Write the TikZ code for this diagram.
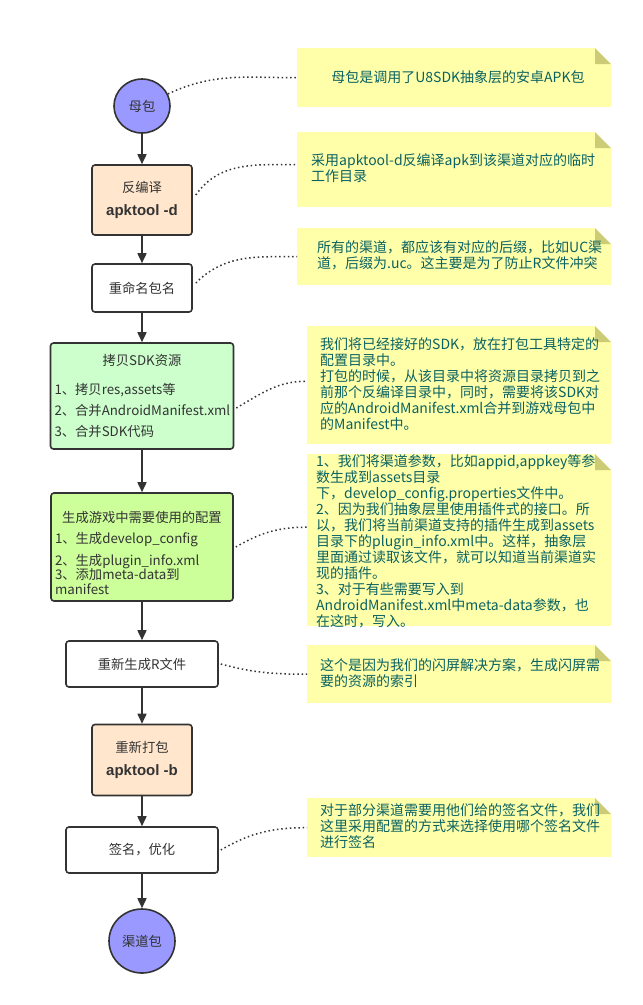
\documentclass[tikz,border=0pt]{standalone}
\usepackage{fontspec}
\setmainfont{Noto Sans CJK SC}
\newfontfamily\apkfont{Liberation Sans}
\usetikzlibrary{arrows.meta,shapes.geometric}

\definecolor{flowline}{HTML}{333333}
\definecolor{packblue}{HTML}{9999FF}
\definecolor{peach}{HTML}{FFE6CC}
\definecolor{mint}{HTML}{CCFFCC}
\definecolor{lime}{HTML}{CCFF99}
\definecolor{notebg}{HTML}{FFFFAA}
\definecolor{notefold}{HTML}{CCCC77}
\definecolor{notetext}{HTML}{0A6262}

\begin{document}
\begin{tikzpicture}[x=1pt,y=-1pt,
  my box/.style={
    draw=flowline, line width=1.6pt, rounded corners=3pt,
    text=flowline, font=\fontsize{13.3}{16}\selectfont, inner sep=0pt,
  },
  my pack/.style={
    ellipse, draw=flowline, line width=1.6pt, fill=packblue,
    text=flowline, font=\fontsize{13.3}{16}\selectfont, inner sep=0pt,
  },
  my note/.style={
    anchor=north west, inner sep=0pt, fill=notebg,
    path picture={
      \fill[white] (path picture bounding box.north east) -- ++(-16pt,0pt) -- ++(16pt,-16pt) -- cycle;
      \fill[notefold] ([xshift=-16pt]path picture bounding box.north east) -- ++(0pt,-16pt) -- ++(16pt,0pt) -- cycle;
    },
  },
  my text/.style={
    anchor=north west, inner sep=0pt, align=left,
    text=notetext, font=\fontsize{14}{16}\selectfont,
  },
  my arrow/.style={-{Triangle[length=10pt,width=9pt]}, line width=1.6pt, draw=flowline},
  my link/.style={draw=flowline, line width=1.5pt, dash pattern=on 1.5pt off 2.8pt},
  ]
  \path[use as bounding box, fill=white] (0,0) rectangle (643,1005);

  \node[my pack, minimum width=56pt, minimum height=54pt] (mb) at (142,106) {母包};
  \node[my box, fill=peach, minimum width=100pt, minimum height=70pt, align=center,
    font=\fontsize{13.3}{23}\selectfont] (fb) at (142,200)
    {反编译\\{\apkfont\bfseries\fontsize{15}{23}\selectfont apktool -d}};
  \node[my box, minimum width=100pt, minimum height=48pt] (rn) at (142,288) {重命名包名};
  \node[my box, fill=mint, minimum width=183pt, minimum height=106pt, text width=175pt,
    align=left, font=\fontsize{13.3}{21}\selectfont] (cp) at (142,396)
    {\makebox[\linewidth]{拷贝SDK资源}\\[8pt]1、拷贝res,assets等\\2、合并AndroidManifest.xml\\3、合并SDK代码};
  \node[my box, fill=lime, minimum width=182pt, minimum height=108pt, text width=174pt,
    align=left, font=\fontsize{13.3}{14}\selectfont] (gc) at (142,547)
    {\makebox[\linewidth]{\rule{0pt}{24pt}生成游戏中需要使用的配置}\\[7pt]1、生成develop\_config\\[6pt]2、生成plugin\_info.xml\\[-1pt]3、添加meta-data到\\[1pt]manifest};
  \node[my box, minimum width=152pt, minimum height=46pt] (rr) at (142,664) {重新生成R文件};
  \node[my box, fill=peach, minimum width=100pt, minimum height=71pt, align=center,
    font=\fontsize{13.3}{23}\selectfont] (rb) at (142,760)
    {重新打包\\{\apkfont\bfseries\fontsize{15}{23}\selectfont apktool -b}};
  \node[my box, minimum width=152pt, minimum height=46pt] (sg) at (142,850) {签名，优化};
  \node[my pack, minimum width=66pt, minimum height=64pt] (qd) at (142,941) {渠道包};

  \foreach \a/\b in {mb/fb, fb/rn, rn/cp, cp/gc, gc/rr, rr/rb, rb/sg, sg/qd}
    \draw[my arrow] (\a) -- (\b);

  \node[my note, minimum width=314pt, minimum height=59pt] (n1) at (297,48) {};
  \node[my note, minimum width=314pt, minimum height=75pt] (n2) at (297,132) {};
  \node[my note, minimum width=314pt, minimum height=57pt] (n3) at (297,228) {};
  \node[my note, minimum width=304pt, minimum height=118pt] (n4) at (307,326) {};
  \node[my note, minimum width=304pt, minimum height=172pt] (n5) at (307,454) {};
  \node[my note, minimum width=304pt, minimum height=58pt] (n6) at (307,645) {};
  \node[my note, minimum width=304pt, minimum height=59pt] (n7) at (307,798) {};

  \node[my text, anchor=base] (t1) at (458,82) {母包是调用了U8SDK抽象层的安卓APK包};
  \node[my text] (t2) at (311,153) {采用apktool-d反编译apk到该渠道对应的临时\\工作目录};
  \node[my text] (t3) at (317,240) {所有的渠道，都应该有对应的后缀，比如UC渠\\道，后缀为.uc。这主要是为了防止R文件冲突};
  \node[my text] (t4) at (320,337) {我们将已经接好的SDK，放在打包工具特定的\\配置目录中。\\打包的时候，从该目录中将资源目录拷贝到之\\前那个反编译目录中，同时，需要将该SDK对\\应的AndroidManifest.xml合并到游戏母包中\\的Manifest中。};
  \node[my text] (t5) at (316,454) {1、我们将渠道参数，比如appid,appkey等参\\数生成到assets目录\\下，develop\_config.properties文件中。\\2、因为我们抽象层里使用插件式的接口。所\\以，我们将当前渠道支持的插件生成到assets\\目录下的plugin\_info.xml中。这样，抽象层\\里面通过读取该文件，就可以知道当前渠道实\\现的插件。\\3、对于有些需要写入到\\AndroidManifest.xml中meta-data参数，也\\在这时，写入。};
  \node[my text] (t6) at (320,658) {这个是因为我们的闪屏解决方案，生成闪屏需\\要的资源的索引};
  \node[my text] (t7) at (320,803) {对于部分渠道需要用他们给的签名文件，我们\\这里采用配置的方式来选择使用哪个签名文件\\进行签名};

  \draw[my link] (mb.25) to[out=25,in=180] (n1.west);
  \draw[my link] ([xshift=3pt,yshift=5pt]fb.east) to[out=55,in=180] ([yshift=5pt]n2.west);
  \draw[my link] ([xshift=3pt,yshift=5pt]rn.east) to[out=45,in=180] (n3.west);
  \draw[my link] ([xshift=2pt,yshift=-12pt]cp.east) to[out=30,in=180] ([yshift=4pt]n4.west);
  \draw[my link] ([xshift=2pt]gc.east) to[out=30,in=180] ([yshift=13pt]n5.west);
  \draw[my link] ([xshift=2pt]rr.east) to[out=-15,in=180] (n6.west);
  \draw[my link] ([xshift=2pt]sg.east) to[out=30,in=180] (n7.west);
\end{tikzpicture}
\end{document}
